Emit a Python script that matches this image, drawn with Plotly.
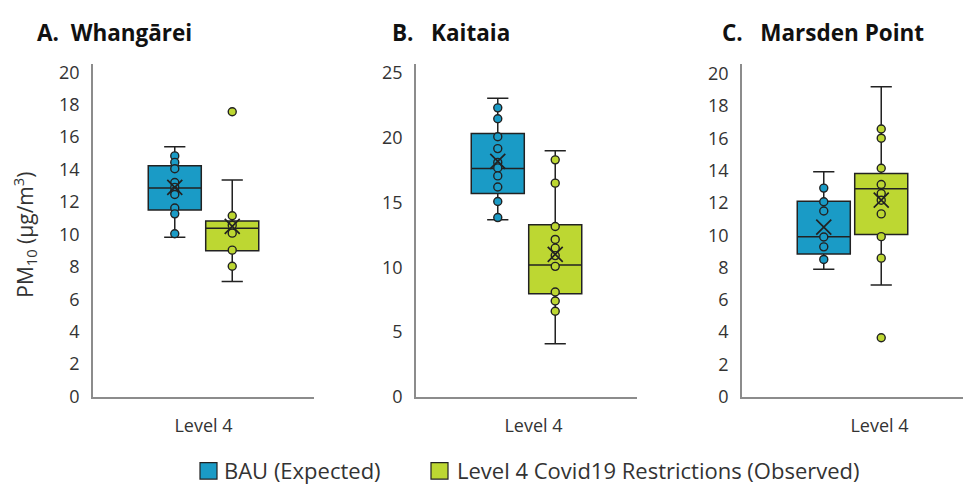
import plotly.graph_objects as go

# ---------------- data ----------------
panels = ["A.  Whangārei", "B.   Kaitaia", "C.   Marsden Point"]
category = "Level 4"
series_names = ["BAU (Expected)", "Level 4 Covid19 Restrictions (Observed)"]

# Panel A - Whangārei
a_bau_points = [14.84, 14.44, 14.05, 13.2, 12.9, 12.66, 12.46, 11.63, 11.27, 10.04]
a_bau_stats = dict(lowerfence=9.82, q1=11.5, median=12.86, q3=14.24, upperfence=15.4, mean=12.9)
a_obs_points = [17.56, 11.15, 10.57, 10.08, 9.03, 8.04]
a_obs_stats = dict(lowerfence=7.1, q1=8.99, median=10.38, q3=10.83, upperfence=13.35, mean=10.5)

# Panel B - Kaitaia
b_bau_points = [22.32, 21.48, 20.09, 19.17, 18.1, 17.68, 17.06, 16.2, 15.08, 13.84]
b_bau_stats = dict(lowerfence=13.67, q1=15.7, median=17.63, q3=20.33, upperfence=23.07, mean=18.18)
b_obs_points = [18.3, 16.5, 13.15, 12.15, 11.48, 10.9, 10.07, 8.09, 7.39, 6.6]
b_obs_stats = dict(lowerfence=4.09, q1=7.96, median=10.17, q3=13.29, upperfence=19.0, mean=11.0)

# Panel C - Marsden Point
c_bau_points = [12.92, 12.07, 11.5, 9.89, 9.28, 8.5]
c_bau_stats = dict(lowerfence=7.89, q1=8.84, median=9.91, q3=12.11, upperfence=13.93, mean=10.5)
c_obs_points = [16.58, 16.01, 14.15, 13.14, 12.58, 12.17, 11.32, 9.91, 8.58, 3.65]
c_obs_stats = dict(lowerfence=6.92, q1=10.05, median=12.88, q3=13.83, upperfence=19.2, mean=12.17)

y_ranges = [[0, 20.5], [0, 25.7], [0, 20.6]]
y_dticks = [2, 5, 2]

# ---------------- styling ----------------
BLUE = "#1a9bc6"
GREEN = "#bdd732"
EDGE = "#222222"
AXIS = "#8c8c8c"
TXT = "#333333"
FONT = "Open Sans"

W, H = 963, 491


def fx(px):
    return px / W


def fy(py):
    return 1 - py / H


x_domains_px = [(93, 314), (416, 637), (742, 963)]
y_domain = [fy(405), fy(62)]
label_shift = [0, 7, 27]

panel_data = [
    [(a_bau_points, a_bau_stats), (a_obs_points, a_obs_stats)],
    [(b_bau_points, b_bau_stats), (b_obs_points, b_obs_stats)],
    [(c_bau_points, c_bau_stats), (c_obs_points, c_obs_stats)],
]
colors = [BLUE, GREEN]
offsets = [-0.13, 0.13]

fig = go.Figure()

for p, series in enumerate(panel_data):
    xa = "x" if p == 0 else f"x{p+1}"
    ya = "y" if p == 0 else f"y{p+1}"
    for s, (pts, st) in enumerate(series):
        xpos = offsets[s]
        fig.add_trace(go.Box(
            x=[xpos], q1=[st["q1"]], median=[st["median"]], q3=[st["q3"]],
            lowerfence=[st["lowerfence"]], upperfence=[st["upperfence"]],
            width=0.24, whiskerwidth=0.4,
            fillcolor=colors[s], line=dict(color=EDGE, width=1.5),
            boxpoints=False, name=series_names[s], showlegend=False,
            hoverinfo="skip", xaxis=xa, yaxis=ya,
        ))
        fig.add_trace(go.Scatter(
            x=[xpos] * len(pts), y=pts, mode="markers",
            marker=dict(symbol="circle", size=8, color=colors[s],
                        line=dict(color=EDGE, width=1.4)),
            showlegend=False, hoverinfo="skip", xaxis=xa, yaxis=ya,
        ))
        fig.add_trace(go.Scatter(
            x=[xpos], y=[st["mean"]], mode="markers",
            marker=dict(symbol="x-thin", size=15, color=EDGE,
                        line=dict(color=EDGE, width=1.7)),
            showlegend=False, hoverinfo="skip", xaxis=xa, yaxis=ya,
        ))

layout = dict(
    width=W, height=H,
    margin=dict(l=0, r=0, t=0, b=0),
    paper_bgcolor="white", plot_bgcolor="white",
    font=dict(family=FONT, color=TXT, size=17),
    showlegend=False,
)

for p in range(3):
    xk = "xaxis" if p == 0 else f"xaxis{p+1}"
    yk = "yaxis" if p == 0 else f"yaxis{p+1}"
    x0, x1 = x_domains_px[p]
    layout[xk] = dict(
        domain=[fx(x0), min(fx(x1), 1.0)], range=[-0.5, 0.5],
        tickvals=[0], ticktext=[category], ticks="", showgrid=False, zeroline=False,
        showline=True, linecolor=AXIS, linewidth=1.5,
        tickfont=dict(size=18, color=TXT), ticklabelstandoff=12,
        ticklabelshift=label_shift[p],
        anchor="y" if p == 0 else f"y{p+1}",
    )
    layout[yk] = dict(
        domain=y_domain, range=y_ranges[p], dtick=y_dticks[p], tick0=0,
        ticks="", showgrid=False, zeroline=False,
        showline=True, linecolor=AXIS, linewidth=1.5,
        tickfont=dict(size=18, color=TXT), ticklabelstandoff=8,
        anchor="x" if p == 0 else f"x{p+1}",
    )

fig.update_layout(**layout)

# panel titles
title_x_px = [35, 390, 720]
for p in range(3):
    fig.add_annotation(
        text=f"<b>{panels[p]}</b>", xref="paper", yref="paper",
        x=fx(title_x_px[p]), y=fy(29), xanchor="left", yanchor="middle",
        showarrow=False, font=dict(size=22.5, color="#111111", family=FONT),
    )

# y-axis title
fig.add_annotation(
    text="PM<sub>10</sub> (µg/m<sup>3</sup>)", xref="paper", yref="paper",
    x=fx(25), y=fy(238), xanchor="center", yanchor="middle", textangle=-90,
    showarrow=False, font=dict(size=21, color=TXT, family=FONT),
)

# legend (swatch + label) placed freely at the bottom edge
legend_swatch_px = [(200, 217), (431, 448)]
legend_text_px = [222, 455]
for s in range(2):
    sx0, sx1 = legend_swatch_px[s]
    fig.add_shape(
        type="rect", xref="paper", yref="paper",
        x0=fx(sx0), x1=fx(sx1), y0=fy(490), y1=fy(473),
        fillcolor=colors[s], line=dict(color=EDGE, width=1.2),
    )
    fig.add_annotation(
        text=series_names[s], xref="paper", yref="paper",
        x=fx(legend_text_px[s]), y=fy(481), xanchor="left", yanchor="middle",
        showarrow=False, font=dict(size=22, color=TXT, family=FONT),
    )

page_js = (
    "document.documentElement.style.cssText='margin:0;padding:0;overflow:hidden;';"
    "document.body.style.cssText='margin:0;padding:0;overflow:hidden;';"
)

fig.write_html(
    "out.html",
    config={"displayModeBar": False},
    post_script=page_js,
)
